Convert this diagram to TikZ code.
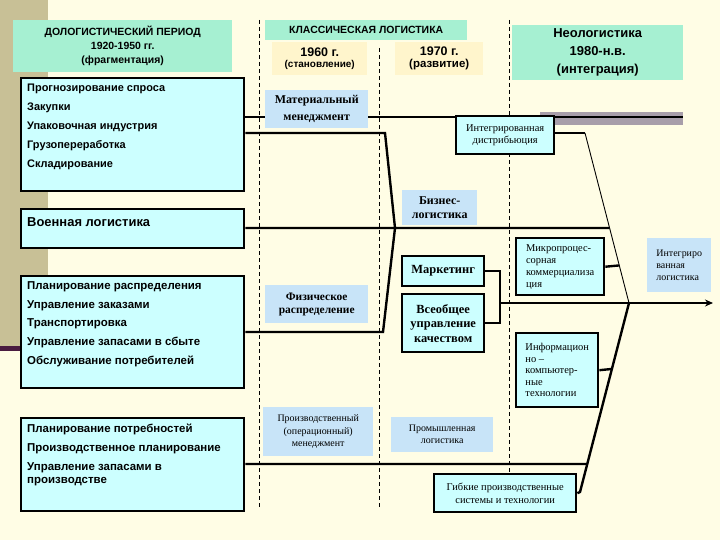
\documentclass[tikz,border=0pt]{standalone}
\usepackage{fontspec}
\setmainfont{Liberation Serif}
\setsansfont{Liberation Sans}
\usetikzlibrary{arrows.meta,calc}
\definecolor{cPaper}{HTML}{FFFDE5}
\definecolor{cKhaki}{HTML}{C8C096}
\definecolor{cPlum}{HTML}{4A1C40}
\definecolor{cMint}{HTML}{A6F0D2}
\definecolor{cSand}{HTML}{FFF5CC}
\definecolor{cAqua}{HTML}{CCFFFF}
\definecolor{cSky}{HTML}{C8E4F8}
\definecolor{cShade}{HTML}{A89EAA}
\pgfdeclarelayer{back}
\pgfdeclarelayer{wires}
\pgfsetlayers{back,wires,main}
\tikzset{
  hdr/.style={fill=cMint, align=center, inner sep=0pt, anchor=north west,
    font=\sffamily\bfseries\fontsize{10.5}{14}\selectfont},
  era/.style={fill=cSand, align=center, inner sep=0pt, anchor=north west, font=\sffamily\bfseries},
  area/.style={draw=black, line width=2.4pt, fill=cAqua, inner sep=0pt, anchor=north west},
  areatxt/.style={anchor=north west, align=left, inner sep=0pt,
    font=\sffamily\bfseries\fontsize{11}{19}\selectfont},
  sky/.style={fill=cSky, align=center, inner sep=0pt, anchor=north west,
    font=\fontsize{10}{12.5}\selectfont},
  skyb/.style={sky, font=\bfseries\fontsize{12}{15}\selectfont},
  tool/.style={draw=black, line width=2.4pt, fill=cAqua, align=center, inner sep=0pt,
    anchor=north west, font=\fontsize{10.5}{13}\selectfont},
  spine/.style={line width=2.4pt},
  fine/.style={line width=0.9pt},
  divider/.style={line width=0.7pt, dash pattern=on 4bp off 3bp},
}
\begin{document}
\begin{tikzpicture}[x=1bp, y=-1bp]
  \useasboundingbox (0,0) rectangle (720,540);
  \begin{pgfonlayer}{back}
    \fill[cPaper] (0,0) rectangle (720,540);
    \fill[cKhaki] (0,0) rectangle (48,347);
    \fill[cPlum] (0,346) rectangle (30,351);
  \end{pgfonlayer}
  % period headers
  \node[hdr, minimum width=219bp, minimum height=52bp] (dolog) at (13,20)
    {ДОЛОГИСТИЧЕСКИЙ ПЕРИОД\\1920-1950 гг.\\(фрагментация)};
  \node[hdr, minimum width=202bp, minimum height=20bp] (classic) at (265,20) {КЛАССИЧЕСКАЯ ЛОГИСТИКА};
  \node[era, minimum width=95bp, minimum height=33bp] (e60) at (272,42)
    {\fontsize{12.5}{15}\selectfont 1960 г.\\\fontsize{10}{15}\selectfont (становление)};
  \node[era, minimum width=88bp, minimum height=33bp] (e70) at (395,42)
    {\fontsize{12.5}{14}\selectfont 1970 г.\\\fontsize{11.5}{14}\selectfont (развитие)};
  \node[hdr, minimum width=171bp, minimum height=55bp, font=\sffamily\bfseries\fontsize{13}{18}\selectfont]
    (neo) at (512,25) {Неологистика\\1980-н.в.\\(интеграция)};
  % functional areas
  \node[area, minimum width=223bp, minimum height=113bp] (pre) at (20,77) {};
  \node[areatxt] (pretxt) at ($(pre.north west)+(7,7)$)
    {Прогнозирование спроса\\Закупки\\Упаковочная индустрия\\Грузопереработка\\Складирование};
  \node[area, minimum width=223bp, minimum height=39bp] (mil) at (20,208) {};
  \node[areatxt, font=\sffamily\bfseries\fontsize{13}{16}\selectfont] (miltxt)
    at ($(mil.north west)+(7,9)$) {Военная логистика};
  \node[area, minimum width=223bp, minimum height=112bp] (dist) at (20,275) {};
  \node[areatxt, font=\sffamily\bfseries\fontsize{11.5}{19}\selectfont] (disttxt)
    at ($(dist.north west)+(7,6)$)
    {Планирование распределения\\Управление заказами\\Транспортировка\\Управление запасами в сбыте\\Обслуживание потребителей};
  \node[area, minimum width=223bp, minimum height=93bp] (prod) at (20,417) {};
  \node[areatxt, font=\sffamily\bfseries\fontsize{11.5}{19}\selectfont] (prodtxt)
    at ($(prod.north west)+(7,7)$)
    {Планирование потребностей\\Производственное планирование\\Управление запасами в\\[-6pt]производстве};
  % concepts
  \node[skyb, minimum width=103bp, minimum height=38bp, font=\bfseries\fontsize{12}{17}\selectfont]
    (mat) at (265,90) {Материальный\\менеджмент};
  \node[skyb, minimum width=75bp, minimum height=35bp, font=\bfseries\fontsize{12}{14}\selectfont]
    (biz) at (402,190) {Бизнес-\\логистика};
  \node[skyb, minimum width=103bp, minimum height=38bp, font=\bfseries\fontsize{11.5}{13}\selectfont]
    (phys) at (265,285) {Физическое\\распределение};
  \node[sky, minimum width=110bp, minimum height=49bp] (opm) at (263,407)
    {Производственный\\(операционный)\\менеджмент};
  \node[sky, minimum width=102bp, minimum height=35bp, font=\fontsize{10}{12}\selectfont]
    (ind) at (391,417) {Промышленная\\логистика};
  \node[sky, align=left, minimum width=64bp, minimum height=54bp, font=\fontsize{10}{12}\selectfont]
    (intlog) at (647,238) {Интегриро\\ванная\\логистика};
  % tools
  \node[tool, minimum width=98bp, minimum height=38bp] (intd) at (455,115) {Интегрированная\\дистрибьюция};
  \node[tool, minimum width=82bp, minimum height=30bp, font=\bfseries\fontsize{12.5}{15}\selectfont]
    (mkt) at (401,255) {Маркетинг};
  \node[tool, minimum width=82bp, minimum height=58bp, font=\bfseries\fontsize{12.5}{14.5}\selectfont]
    (tqm) at (401,293) {Всеобщее\\управление\\качеством};
  \node[tool, align=left, minimum width=88bp, minimum height=57bp, font=\fontsize{10.5}{12}\selectfont]
    (micro) at (515,237) {Микропроцес-\\сорная\\коммерциализа\\ция};
  \node[tool, align=left, minimum width=82bp, minimum height=74bp, font=\fontsize{10.5}{11.5}\selectfont]
    (info) at (515,332) {Информацион\\но --\\компьютер-\\ные\\технологии};
  \node[tool, minimum width=142bp, minimum height=38bp] (flex) at (433,473)
    {Гибкие производственные\\системы и технологии};
  % junctions of the fishbone
  \coordinate (topend) at (683,117);
  \coordinate (lk) at (385,133);
  \coordinate (lj) at (395,228);
  \coordinate (lb) at (383,332);
  \coordinate (rk) at (585,133);
  \coordinate (rj) at (629,303);
  \coordinate (rb) at (580,492);
  \coordinate (brk) at (500,303);
  \coordinate (tip) at (713,303);
  \begin{pgfonlayer}{wires}
    % era dividers
    \draw[divider] (259,20) -- (259,510);
    \draw[divider] (379,48) -- (379,510);
    \draw[divider] (509,20) -- (509,510);
    \fill[cShade] ($(topend)+(-143,-5)$) rectangle ($(topend)+(0,8)$);
    \draw[spine] (pre.east |- topend) -- (topend);
    \draw[spine] (pre.east |- lk) -- (lk) -- (lj);
    \draw[spine] (dist.east |- lb) -- (lb) -- (lj);
    \draw[spine] (mil.east |- lj) -- ($(rk)!0.559!(rj)$);
    \draw[spine] (intd.east |- rk) -- (rk);
    \draw[fine] (rk) -- (rj);
    \draw[spine] (micro.east) -- ($(rk)!0.779!(rj)$);
    \draw[spine] (flex.east) -- (rb) -- (rj);
    \draw[spine] (info.east) -- ($(rb)!0.651!(rj)$);
    \draw[spine] (prod.east |- 0,464) -- ($(rb)!0.148!(rj)$);
    \draw[spine] (mkt.east) -| (brk) |- (tqm.east);
    \draw[spine, -{Stealth[length=8bp, width=7bp]}] (brk) -- (tip);
  \end{pgfonlayer}
\end{tikzpicture}
\end{document}
